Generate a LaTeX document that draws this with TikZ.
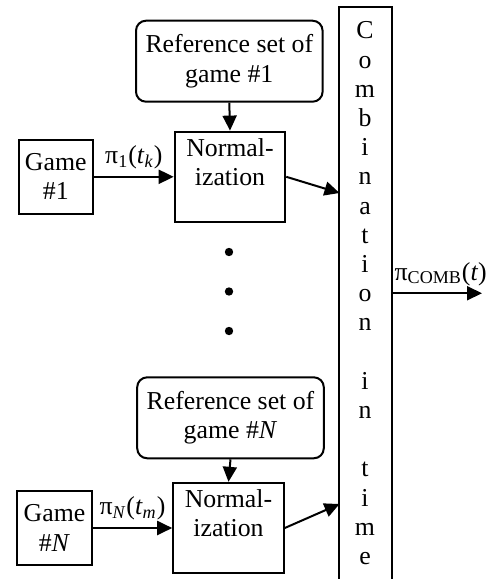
\documentclass[tikz,border=0pt]{standalone}
\usepackage{fontspec}
\setmainfont{Liberation Serif}
\usetikzlibrary{arrows.meta, positioning}

\begin{document}
\begin{tikzpicture}[x=0.5pt, y=-0.5pt, line width=1pt,
        font=\fontsize{12.9}{14.6}\selectfont,
        box/.style={rectangle, draw, inner sep=0pt, align=center},
        refbox/.style={box, rounded corners=5pt, minimum width=93.3pt, minimum height=40.5pt},
        gamebox/.style={box, minimum width=37.2pt, minimum height=37.2pt},
        normbox/.style={box, minimum width=55.3pt, minimum height=45.2pt},
        arr/.style={-{Triangle[length=7.5pt, width=7pt]}}]
        \useasboundingbox (0,0) rectangle (486,579);

        \node[refbox] (r1) at (229.3,61.2) {Reference set of\\game \#1};
        \node[normbox] (n1) at (230,176.8) {Normal-\\ization\\~};
        \node[gamebox] (g1) at (55.8,176.8) {Game\\\#1};

        \node[refbox] (rN) at (230.5,417.8) {Reference set of\\game \#\textit{N}};
        \node[normbox] (nN) at (228.5,528) {Normal-\\ization\\~};
        \node[gamebox] (gN) at (54.5,528) {Game\\\#\textit{N}};

        \foreach \k/\y in {1/252, 2/291.5, 3/331}
            \node[circle, fill, inner sep=0pt, minimum size=4.2pt] (d\k) at (229,\y) {};

        \node[inner sep=0pt, minimum width=25.5pt, minimum height=285.75pt, align=center] (comb) at (365,293.25)
            {C\\o\\m\\b\\i\\n\\a\\t\\i\\o\\n\\~\\i\\n\\~\\t\\i\\m\\e};
        \draw (comb.south west) -- (comb.north west) -- (comb.north east) -- (comb.south east);

        \coordinate (c1) at (339.5,193);
        \coordinate (cN) at (339.5,504);
        \coordinate (out) at (482,293.25);

        \draw[arr] (r1.south) -- (n1.north);
        \draw[arr] (rN.south) -- (nN.north);
        \draw[arr] (g1) -- node[above] {π\textsubscript{1}(\textit{t}\textsubscript{\textit{k}})} (n1);
        \draw[arr] (gN) -- node[above] {π\textsubscript{\textit{N}}(\textit{t}\textsubscript{\textit{m}})} (nN);
        \draw[arr] (n1.east) -- (c1);
        \draw[arr] (nN.east) -- (cN);
        \draw[arr] (comb.east) -- node[above, xshift=2pt] {π\textsubscript{COMB}(\textit{t})} (out);
    \end{tikzpicture}
\end{document}
